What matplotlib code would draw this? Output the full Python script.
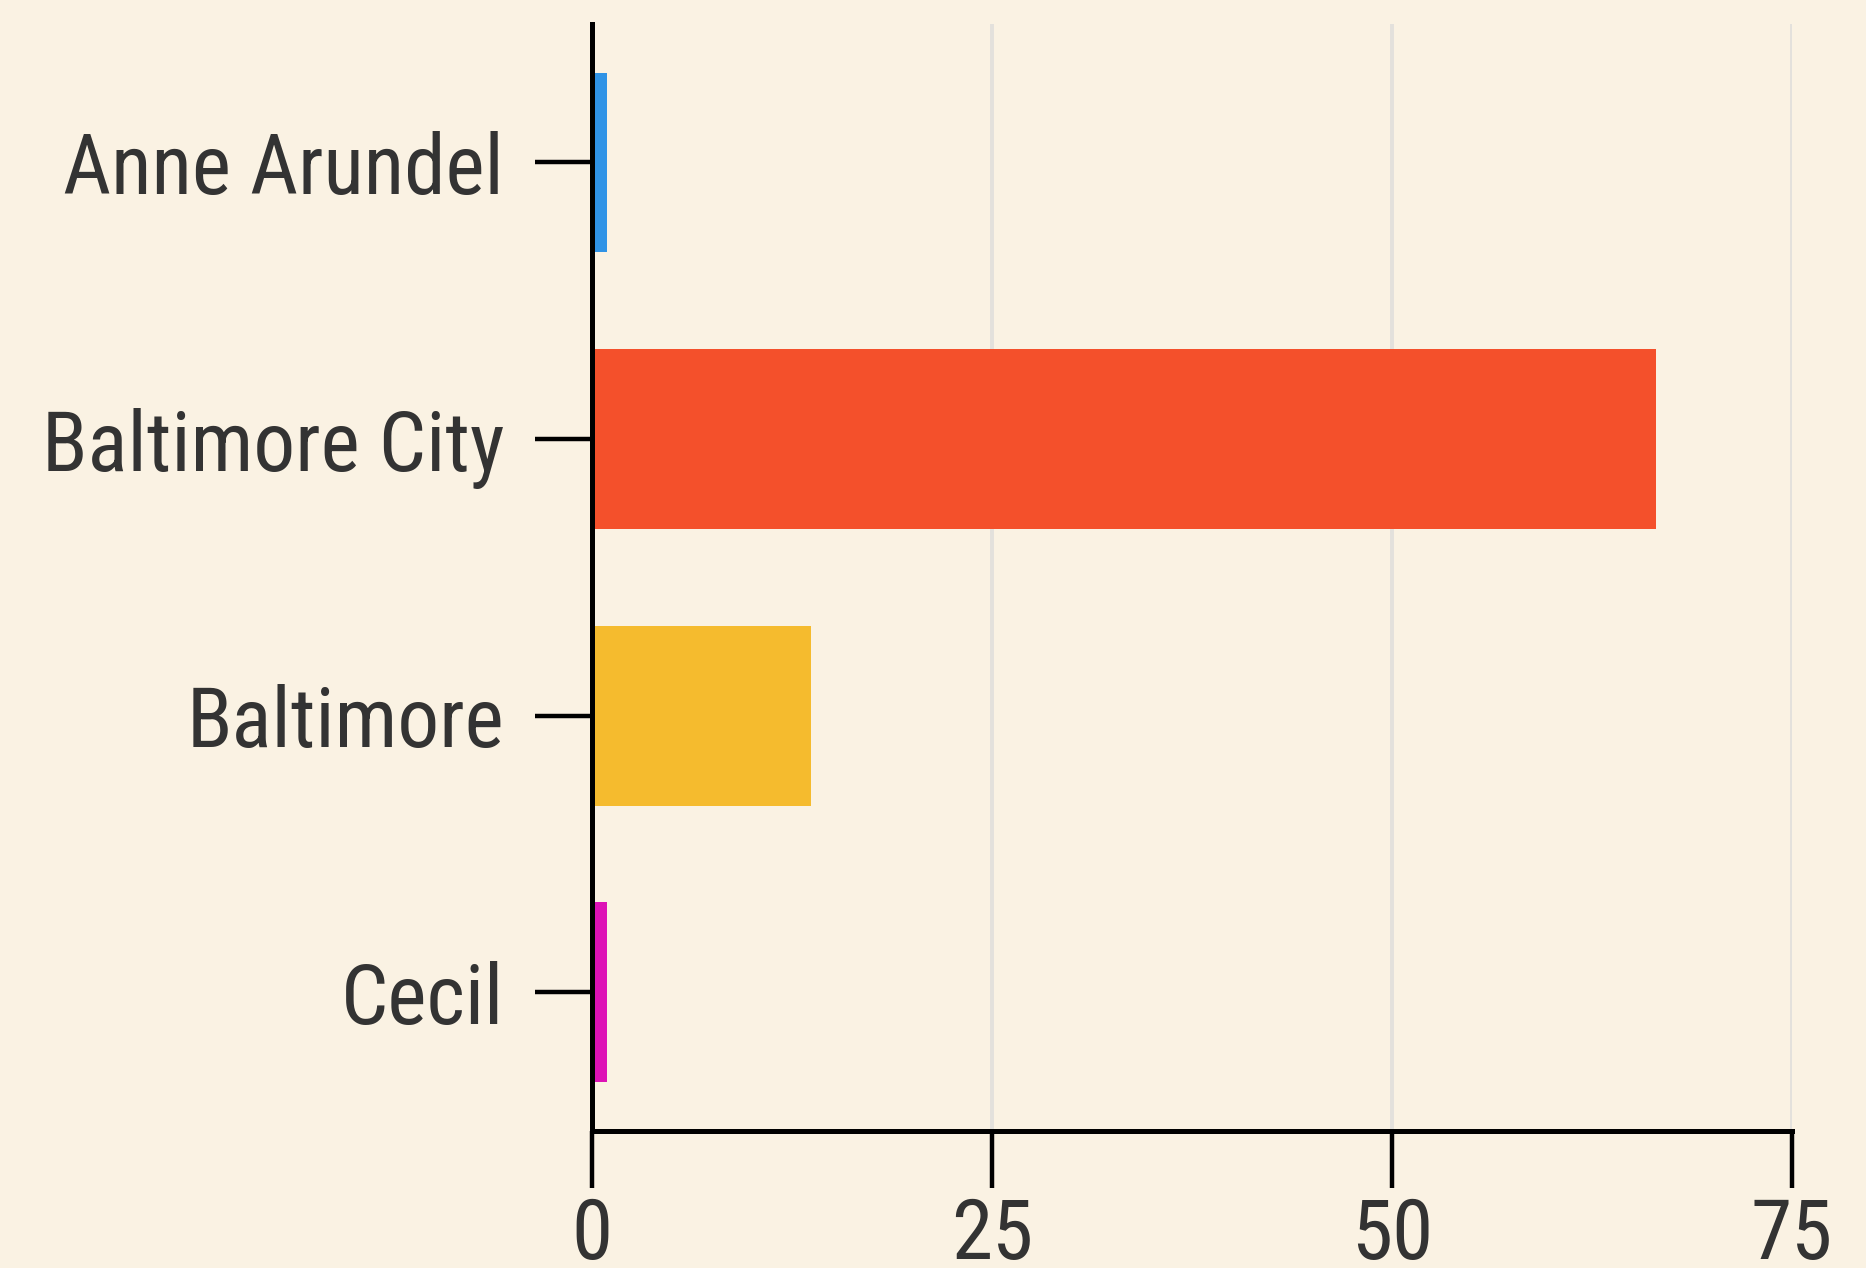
import matplotlib
matplotlib.use("Agg")
import matplotlib.pyplot as plt
from matplotlib import font_manager

categories = ["Anne Arundel", "Baltimore City", "Baltimore", "Cecil"]
values = [0.95, 66.5, 13.7, 0.95]
colors = ["#2f93e6", "#f4502b", "#f5bb2e", "#dd12b6"]
x_ticks = [0, 25, 50, 75]

available = {f.name for f in font_manager.fontManager.ttflist}
family = "Roboto"
for cand in ["Roboto Condensed", "Liberation Sans Narrow", "Roboto"]:
    if cand in available:
        family = cand
        break
plt.rcParams["font.family"] = [family, "DejaVu Sans"]

bg = "#faf2e3"
txt = "#333333"

fig = plt.figure(figsize=(18.66, 12.68), dpi=100, facecolor=bg)
ax = fig.add_axes([0.3171, 0.1083, 0.9603 - 0.3171, 0.981 - 0.1083])
ax.set_facecolor(bg)

ypos = list(range(len(categories)))
ax.barh(ypos, values, height=0.65, color=colors, zorder=3)

ax.set_xlim(0, 75)
ax.set_ylim(3.5, -0.5)
ax.set_yticks(ypos)
ax.set_yticklabels(categories)
ax.set_xticks(x_ticks)
ax.set_xticklabels([str(t) for t in x_ticks])

ax.xaxis.grid(True, color="#e3e1dc", linewidth=2.8, zorder=0)
ax.yaxis.grid(False)

for s in ["top", "right"]:
    ax.spines[s].set_visible(False)
for s in ["left", "bottom"]:
    ax.spines[s].set_linewidth(3.6)
    ax.spines[s].set_color("black")
    ax.spines[s].set_zorder(4)

ax.tick_params(axis="y", length=41, width=3.2, color="black", pad=22,
               labelsize=60, labelcolor=txt)
ax.tick_params(axis="x", length=41, width=3.2, color="black", pad=6,
               labelsize=60, labelcolor=txt)

fig.savefig("out.png", dpi=100, facecolor=bg)
